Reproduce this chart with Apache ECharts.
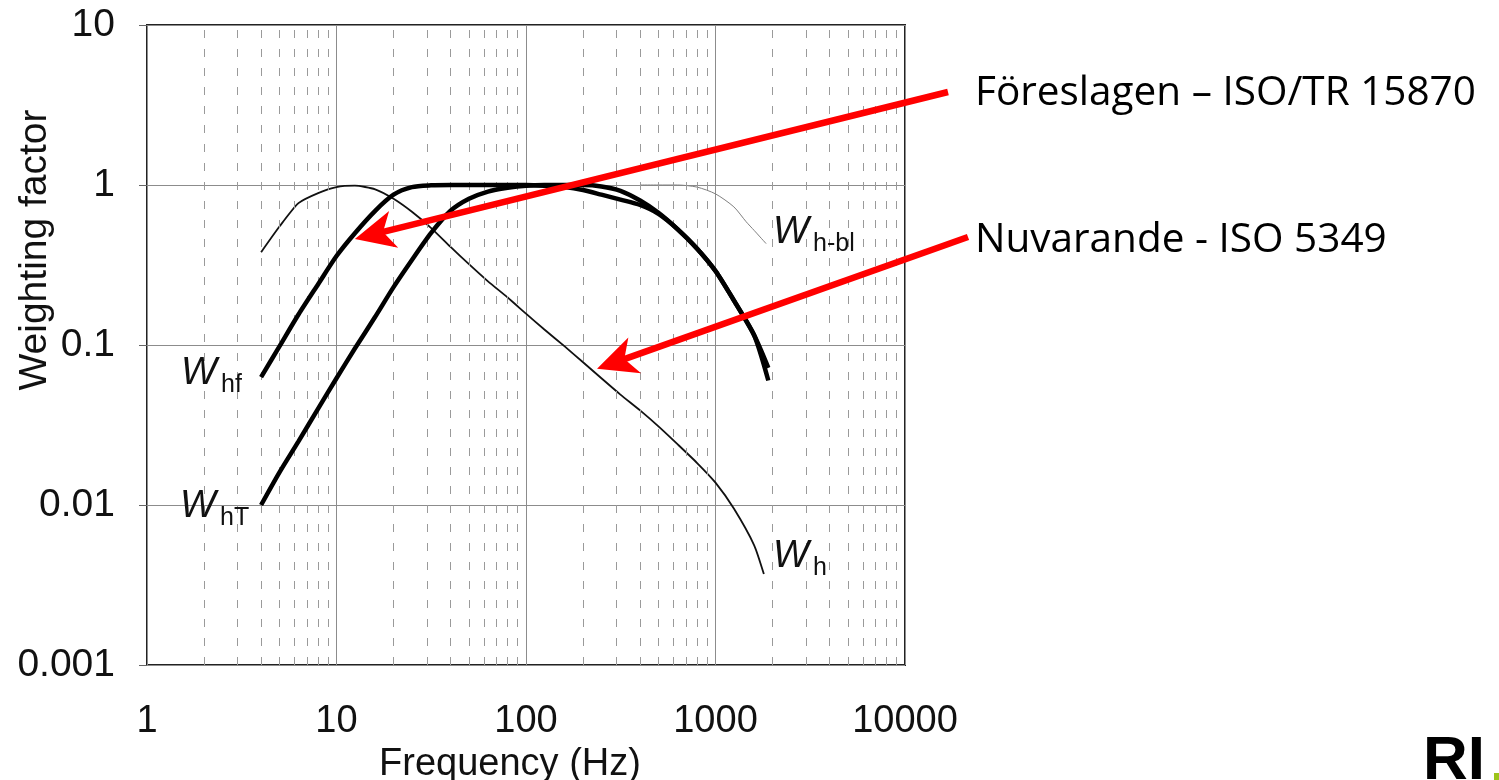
<!DOCTYPE html>
<html>
<head>
<meta charset="utf-8">
<script src="https://cdn.jsdelivr.net/npm/echarts@6/dist/echarts.min.js"></script>
<style>
html,body{margin:0;padding:0;background:#fff;}
#main{width:1499px;height:780px;}
</style>
</head>
<body>
<div id="main"></div>
<script>
// ---------- DATA ----------
const xTickLabels = ['1', '10', '100', '1000', '10000'];
const yTickLabels = ['0.001', '0.01', '0.1', '1', '10'];
const minorFreqs = [2,3,4,5,6,7,8,9,20,30,40,50,60,70,80,90,200,300,400,500,600,700,800,900,2000,3000,4000,5000,6000,7000,8000,9000];

const whFreq = [4,5,6.3,8,10,12.5,16,20,25,31.5,40,50,63,80,100,125,160,200,250,315,400,500,630,800,1000,1250,1600,1800];
const whVals = [0.38,0.55,0.77,0.89,0.97,0.99,0.94,0.82,0.68,0.54,0.41,0.32,0.25,0.198,0.157,0.125,0.098,0.078,0.062,0.049,0.039,0.031,0.024,0.0183,0.0138,0.0095,0.0056,0.0037];

const whfFreq = [4,5,6.3,8,10,12.5,16,20,25,31.5,40,50,63,80,100,125,160,200,250,315,400,500,630,800,1000,1250,1600,1900];
const whfVals = [0.063,0.098,0.155,0.24,0.36,0.50,0.69,0.87,0.97,0.995,1.0,1.0,1.0,1.0,1.0,0.99,0.97,0.93,0.87,0.81,0.75,0.66,0.53,0.40,0.29,0.19,0.115,0.072];

const whtFreq = [4,5,6.3,8,10,12.5,16,20,25,31.5,40,50,63,80,100,125,160,200,250,315,400,500,630,800,1000,1250,1600,1900];
const whtVals = [0.010,0.016,0.025,0.040,0.062,0.095,0.15,0.23,0.34,0.50,0.69,0.82,0.91,0.96,0.99,1.0,1.0,1.0,0.98,0.92,0.80,0.67,0.53,0.40,0.29,0.19,0.115,0.06];

const whblFreq = [400,500,630,800,1000,1250,1450,1600,1850];
const whblVals = [1.0,1.0,1.0,0.97,0.88,0.73,0.59,0.52,0.43];

const seriesNames = ['Wh-bl','Wh','Whf','WhT'];
const axisNames = ['Frequency (Hz)', 'Weighting factor'];
const annotationTexts = ['Föreslagen – ISO/TR 15870', 'Nuvarande - ISO 5349'];
const arrowTargets = [[12.5, 0.46], [237, 0.071]];

// ---------- CHART ----------
const pairs = (fs, vs) => fs.map((f, i) => [f, vs[i]]);
const chart = echarts.init(document.getElementById('main'));
const axisFont = 'Liberation Sans, Arial, sans-serif';

const option = {
  animation: false,
  backgroundColor: '#ffffff',
  grid: {
    left: 147, top: 25, width: 758, height: 640,
    outerBoundsMode: 'none', containLabel: false,
    show: true, borderColor: '#222', borderWidth: 2, backgroundColor: 'transparent'
  },
  xAxis: {
    type: 'log', logBase: 10, min: 1, max: 10000,
    name: axisNames[0], nameLocation: 'middle', nameGap: 72,
    nameTextStyle: { fontSize: 38, color: '#111', fontFamily: axisFont, padding: [0, 32, 0, 0] },
    axisLine: { show: false },
    axisTick: { show: false },
    splitLine: { show: true, lineStyle: { color: '#8c8c8c', width: 1 } },
    axisLabel: {
      fontSize: 38, color: '#111', fontFamily: axisFont, margin: 38,
      showMinLabel: true, showMaxLabel: true,
      formatter: v => xTickLabels[Math.round(Math.log10(v))]
    }
  },
  yAxis: {
    type: 'log', logBase: 10, min: 0.001, max: 10,
    axisLine: { show: false },
    axisTick: { show: true, length: 8, inside: false, lineStyle: { color: '#666', width: 1 } },
    splitLine: { show: true, lineStyle: { color: '#8c8c8c', width: 1 } },
    axisLabel: {
      fontSize: 39, color: '#111', fontFamily: axisFont, margin: 32,
      showMinLabel: true, showMaxLabel: true,
      formatter: v => yTickLabels[Math.round(Math.log10(v)) + 3]
    }
  },
  series: [
    {
      name: 'minor', type: 'line', data: [], silent: true,
      markLine: {
        silent: true, symbol: 'none', animation: false,
        label: { show: false },
        lineStyle: { color: '#9a9a9a', width: 1, type: [8, 11] },
        data: minorFreqs.map(f => ({ xAxis: f }))
      }
    },
    {
      name: seriesNames[0], type: 'line', data: pairs(whblFreq, whblVals),
      showSymbol: false, symbol: 'none', smooth: 0.25, z: 3,
      lineStyle: { color: '#808080', width: 1 }
    },
    {
      name: seriesNames[1], type: 'line', data: pairs(whFreq, whVals),
      showSymbol: false, symbol: 'none', smooth: 0.2, z: 4,
      lineStyle: { color: '#111', width: 1.8 }
    },
    {
      name: seriesNames[2], type: 'line', data: pairs(whfFreq, whfVals),
      showSymbol: false, symbol: 'none', smooth: 0.25, z: 5,
      lineStyle: { color: '#000', width: 4.5 }
    },
    {
      name: seriesNames[3], type: 'line', data: pairs(whtFreq, whtVals),
      showSymbol: false, symbol: 'none', smooth: 0.25, z: 5,
      lineStyle: { color: '#000', width: 4.5 }
    }
  ]
};
chart.setOption(option);

// ---------- ANNOTATIONS ----------
function arrow(tail, tip) {
  const dx = tip[0] - tail[0], dy = tip[1] - tail[1];
  const len = Math.sqrt(dx * dx + dy * dy);
  const ux = dx / len, uy = dy / len, nx = -uy, ny = ux;
  const L = 40, W = 19, N = 29;
  const b1 = [tip[0] - L * ux + W * nx, tip[1] - L * uy + W * ny];
  const b2 = [tip[0] - L * ux - W * nx, tip[1] - L * uy - W * ny];
  const notch = [tip[0] - N * ux, tip[1] - N * uy];
  const lineEnd = [tip[0] - (N - 3) * ux, tip[1] - (N - 3) * uy];
  return [
    { type: 'line', z: 100, shape: { x1: tail[0], y1: tail[1], x2: lineEnd[0], y2: lineEnd[1] },
      style: { stroke: '#ff0000', lineWidth: 6.5, lineCap: 'butt' } },
    { type: 'polygon', z: 101, shape: { points: [tip, b1, notch, b2] }, style: { fill: '#ff0000' } }
  ];
}
function wLabel(x, y, sub) {
  return [
    { type: 'text', z: 50, x: x, y: y, style: { text: 'W', font: 'italic 38px Liberation Sans, Arial, sans-serif', fill: '#111', verticalAlign: 'middle', align: 'left' } },
    { type: 'text', z: 50, x: x + 40, y: y + 12, style: { text: sub, font: '25px Liberation Sans, Arial, sans-serif', fill: '#111', verticalAlign: 'middle', align: 'left' } }
  ];
}
const tip1 = chart.convertToPixel({ gridIndex: 0 }, arrowTargets[0]);
const tip2 = chart.convertToPixel({ gridIndex: 0 }, arrowTargets[1]);
const annoFont = '40.5px "Open Sans", "Noto Sans", sans-serif';
const graphics = [].concat(
  [
    { type: 'text', z: 40, x: 35, y: 250, rotation: Math.PI / 2,
      style: { text: axisNames[1], font: '39px Liberation Sans, Arial, sans-serif', fill: '#111', align: 'center', verticalAlign: 'middle' } }
  ],
  wLabel(181, 373, 'hf'),
  wLabel(180, 506, 'hT'),
  wLabel(773, 232, 'h-bl'),
  wLabel(773, 556, 'h'),
  [
    { type: 'text', z: 60, x: 975, y: 93, style: { text: annotationTexts[0], font: annoFont, fill: '#000', verticalAlign: 'middle', align: 'left' } },
    { type: 'text', z: 60, x: 975, y: 240, style: { text: annotationTexts[1], font: annoFont, fill: '#000', verticalAlign: 'middle', align: 'left' } },
    { type: 'text', z: 60, x: 1423, y: 762, style: { text: 'RI', font: 'bold 62px Liberation Sans, Arial, sans-serif', fill: '#000', verticalAlign: 'middle', align: 'left' } },
    { type: 'rect', z: 60, shape: { x: 1494, y: 773, width: 6, height: 8 }, style: { fill: '#9dc41a' } }
  ],
  arrow([948, 92], tip1),
  arrow([968, 237], tip2)
);
chart.setOption({ graphic: graphics });
</script>
</body>
</html>
